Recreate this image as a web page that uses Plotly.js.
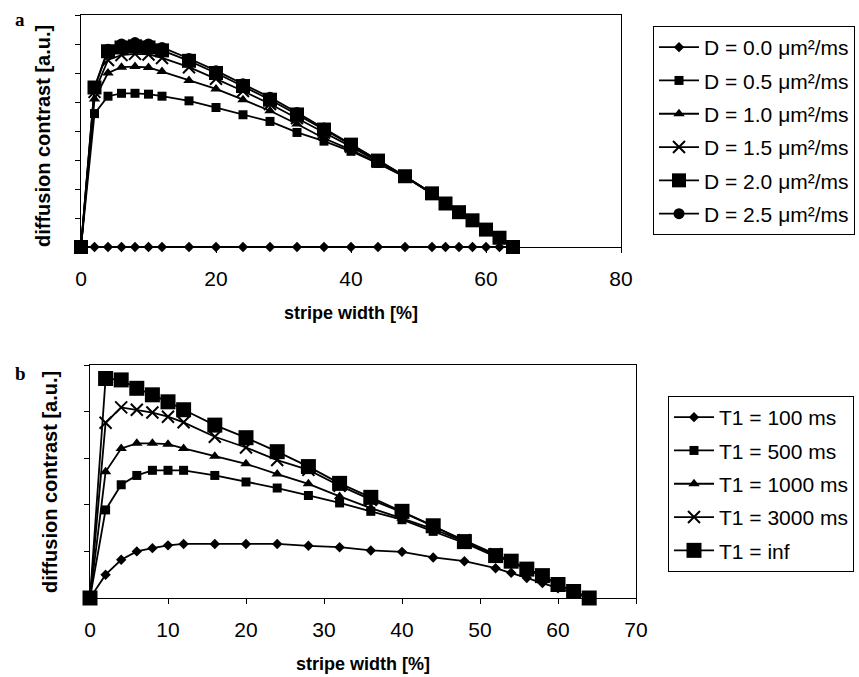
<!DOCTYPE html>
<html>
<head>
<meta charset="utf-8">
<script src="https://cdn.plot.ly/plotly-3.0.1.min.js"></script>
<style>html,body{margin:0;padding:0;background:#fff;}#chart{width:859px;height:677px;}</style>
</head>
<body>
<div id="chart"></div>
<script>
// ---- Panel a data ----
const stripeWidthA = [0,2,4,6,8,10,12,16,20,24,28,32,36,40,44,48,52,54,56,58,60,62,64];
const labelsA = ["D = 0.0 μm²/ms","D = 0.5 μm²/ms","D = 1.0 μm²/ms","D = 1.5 μm²/ms","D = 2.0 μm²/ms","D = 2.5 μm²/ms"];
const d00 = [0,0,0,0,0,0,0,0,0,0,0,0,0,0,0,0,0,0,0,0,0,0,0];
const d05 = [0,4.6,5.2,5.3,5.3,5.27,5.2,5.04,4.81,4.56,4.33,3.95,3.65,3.3,2.88,2.42,1.84,1.5,1.2,0.92,0.6,0.32,0];
const d10 = [0,5.1,6.0,6.2,6.22,6.19,6.05,5.74,5.45,5.08,4.7,4.24,3.75,3.35,2.9,2.42,1.84,1.5,1.2,0.92,0.6,0.32,0];
const d15 = [0,5.35,6.45,6.62,6.66,6.64,6.52,6.2,5.8,5.38,4.93,4.45,3.95,3.46,2.95,2.43,1.85,1.5,1.2,0.92,0.6,0.32,0];
const d20 = [0,5.5,6.75,6.88,6.92,6.88,6.78,6.42,6.0,5.55,5.08,4.57,4.05,3.53,2.98,2.44,1.85,1.5,1.2,0.92,0.6,0.32,0];
const d25 = [0,5.5,6.82,7.0,7.05,7.0,6.88,6.5,6.08,5.63,5.16,4.64,4.1,3.56,3.0,2.44,1.85,1.5,1.2,0.92,0.6,0.32,0];
const seriesA = [d00,d05,d10,d15,d20,d25];

// ---- Panel b data ----
const stripeWidthB = [0,2,4,6,8,10,12,16,20,24,28,32,36,40,44,48,52,54,56,58,60,62,64];
const labelsB = ["T1 = 100 ms","T1 = 500 ms","T1 = 1000 ms","T1 = 3000 ms","T1 = inf"];
const t100  = [0,0.5,0.82,1.0,1.07,1.13,1.16,1.16,1.16,1.16,1.12,1.09,1.02,0.99,0.87,0.79,0.64,0.54,0.43,0.32,0.21,0.11,0];
const t500  = [0,1.89,2.43,2.63,2.74,2.74,2.74,2.63,2.49,2.36,2.2,2.04,1.86,1.68,1.43,1.18,0.89,0.79,0.62,0.48,0.29,0.14,0];
const t1000 = [0,2.71,3.21,3.32,3.32,3.3,3.21,3.04,2.88,2.66,2.45,2.18,1.93,1.71,1.48,1.21,0.92,0.79,0.62,0.48,0.29,0.14,0];
const t3000 = [0,3.76,4.09,4.04,3.98,3.89,3.77,3.46,3.23,2.96,2.75,2.41,2.11,1.84,1.54,1.24,0.94,0.79,0.62,0.48,0.29,0.14,0];
const tinf  = [0,4.71,4.68,4.5,4.36,4.21,4.04,3.71,3.44,3.14,2.82,2.46,2.16,1.86,1.55,1.21,0.91,0.79,0.62,0.48,0.29,0.14,0];
const seriesB = [t100,t500,t1000,t3000,tinf];

const symA = ["diamond","square","triangle-up","x-thin","square","circle"];
const sizeA = [8,9,10,12,14,11];
const symB = ["diamond","square","triangle-up","x-thin","square"];
const sizeB = [8,9,10,12,15];

const traces = [];
function mk(sym, size){
  return {symbol:sym, size:size, color:'#000', line:{color:'#000', width: sym==='x-thin'?2:0}};
}
seriesA.forEach((ys,i)=>{
  traces.push({
    x: stripeWidthA, y: ys, type:'scatter', mode:'lines+markers', name: labelsA[i],
    xaxis:'x', yaxis:'y', legend:'legend', legendgroup:'a'+i, cliponaxis:false,
    line:{color:'#000', width:1.8}, marker: mk(symA[i], sizeA[i])
  });
});
seriesB.forEach((ys,i)=>{
  traces.push({
    x: stripeWidthB, y: ys, type:'scatter', mode:'lines+markers', name: labelsB[i],
    xaxis:'x2', yaxis:'y2', legend:'legend2', legendgroup:'b'+i, cliponaxis:false,
    line:{color:'#000', width:1.8}, marker: mk(symB[i], sizeB[i])
  });
});

const W = 859, H = 677;
const sans = 'Liberation Sans, Arial, sans-serif';
const axCommon = {showgrid:false, zeroline:false, showline:true, linecolor:'#000', linewidth:1, mirror:true,
  ticks:'outside', ticklen:5, tickcolor:'#000', tickfont:{family:sans, size:21, color:'#000'}};
// x axes: long transparent major ticks place the labels lower; short visible ticks come from the minor set
const xTickStyle = {ticks:'outside', ticklen:13, tickcolor:'rgba(0,0,0,0)'};
const xTitleFont = {family:sans, size:18, color:'#000', weight:'bold'};
const yTitleFont = {family:sans, size:20, color:'#000', weight:'bold'};
const legFont = {family:sans, size:21, color:'#000'};

const layout = {
  width: W, height: H, margin:{l:0,r:0,t:0,b:0}, paper_bgcolor:'#fff', plot_bgcolor:'#fff', showlegend:true,
  xaxis: Object.assign({}, axCommon, xTickStyle, {domain:[81/W, 621/W], range:[0,80], dtick:20, anchor:'y',
    minor:{ticks:'outside', ticklen:5, tickcolor:'#000', tick0:0.001, dtick:20, showgrid:false},
    title:{text:'stripe width [%]', font:xTitleFont, standoff:17}}),
  yaxis: Object.assign({}, axCommon, {domain:[1-247/H, 1-15/H], range:[0,8], dtick:1, showticklabels:false, anchor:'x'}),
  xaxis2: Object.assign({}, axCommon, xTickStyle, {domain:[90/W, 636/W], range:[0,70], dtick:10, anchor:'y2',
    minor:{ticks:'outside', ticklen:5, tickcolor:'#000', tick0:0.001, dtick:10, showgrid:false},
    title:{text:'stripe width [%]', font:xTitleFont, standoff:17}}),
  yaxis2: Object.assign({}, axCommon, {domain:[1-598/H, 1-365/H], range:[0,5], dtick:1, showticklabels:false, anchor:'x2'}),
  legend: {x:653/W, y:1-26/H, xanchor:'left', yanchor:'top', bordercolor:'#000', borderwidth:1, bgcolor:'#fff',
    font:legFont, tracegroupgap:3, traceorder:'grouped', itemwidth:40},
  legend2: {x:668/W, y:1-396/H, xanchor:'left', yanchor:'top', bordercolor:'#000', borderwidth:1, bgcolor:'#fff',
    font:legFont, tracegroupgap:3, traceorder:'grouped', itemwidth:40},
  annotations: [
    {text:'diffusion contrast [a.u.]', xref:'paper', yref:'paper', x:43/W, y:1-136/H, textangle:-90, showarrow:false,
     xanchor:'center', yanchor:'middle', font:yTitleFont},
    {text:'diffusion contrast [a.u.]', xref:'paper', yref:'paper', x:50/W, y:1-482/H, textangle:-90, showarrow:false,
     xanchor:'center', yanchor:'middle', font:yTitleFont},
    {text:'a', xref:'paper', yref:'paper', x:20/W, y:1-20/H, showarrow:false, xanchor:'center', yanchor:'middle',
     font:{family:'Liberation Serif, Times New Roman, serif', size:19, color:'#000', weight:'bold'}},
    {text:'b', xref:'paper', yref:'paper', x:20/W, y:1-373/H, showarrow:false, xanchor:'center', yanchor:'middle',
     font:{family:'Liberation Serif, Times New Roman, serif', size:19, color:'#000', weight:'bold'}}
  ]
};

Plotly.newPlot('chart', traces, layout, {displayModeBar:false, staticPlot:true});
</script>
</body>
</html>
